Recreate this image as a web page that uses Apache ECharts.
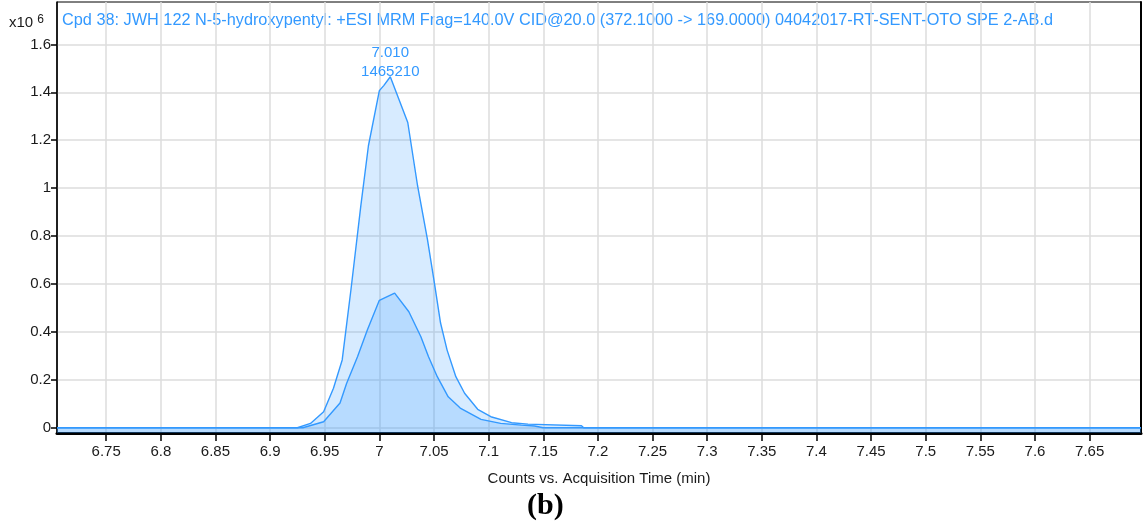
<!DOCTYPE html>
<html>
<head>
<meta charset="utf-8">
<script src="https://cdn.jsdelivr.net/npm/echarts@6/dist/echarts.min.js"></script>
<style>
  html, body { margin: 0; padding: 0; background: #fff; }
  #chart { width: 1146px; height: 529px; }
</style>
</head>
<body>
<div id="chart"></div>
<script>
// Chromatogram data, intensity in units of x10^6 counts
const outerTime = [6.705, 6.925, 6.937, 6.949, 6.958, 6.966, 6.974, 6.983, 6.990, 7.000, 7.004, 7.010,
    7.026, 7.035, 7.044, 7.050, 7.056, 7.062, 7.070, 7.078, 7.090, 7.102, 7.121, 7.136, 7.185, 7.187, 7.697];
const outerCounts = [0, 0, 0.018, 0.067, 0.165, 0.283, 0.576, 0.925, 1.177, 1.407, 1.428, 1.465,
    1.274, 1.009, 0.786, 0.615, 0.437, 0.324, 0.213, 0.144, 0.077, 0.046, 0.021, 0.015, 0.008, 0, 0];

const innerTime = [6.705, 6.930, 6.949, 6.964, 6.970, 6.980, 6.989, 7.000, 7.014, 7.027, 7.038, 7.045,
    7.053, 7.063, 7.074, 7.093, 7.111, 7.130, 7.142, 7.150, 7.697];
const innerCounts = [0, 0, 0.025, 0.103, 0.185, 0.296, 0.408, 0.532, 0.562, 0.484, 0.380, 0.296,
    0.213, 0.129, 0.082, 0.035, 0.018, 0.011, 0.007, 0, 0];

const xTicks = [6.75, 6.8, 6.85, 6.9, 6.95, 7, 7.05, 7.1, 7.15, 7.2, 7.25, 7.3, 7.35, 7.4, 7.45,
    7.5, 7.55, 7.6, 7.65];
const yTicks = [0, 0.2, 0.4, 0.6, 0.8, 1, 1.2, 1.4, 1.6];

const peakTime = '7.010';
const peakCounts = '1465210';
const peakIndex = 11;

const titleText = 'Cpd 38: JWH 122 N-5-hydroxypentyl: +ESI MRM Frag=140.0V CID@20.0 (372.1000 -> 169.0000) 04042017-RT-SENT-OTO SPE 2-AB.d';

const theme = {
    line: '#3399ff',
    fill: 'rgba(51,153,255,0.28)',
    grid: '#dcdcdc',
    text: '#1a1a1a',
    font: 'Liberation Sans',
};

const chart = echarts.init(document.getElementById('chart'));

const toPairs = (xs, ys) => xs.map((x, i) => [x, ys[i]]);

const option = {
    animation: false,
    backgroundColor: '#fff',
    textStyle: { fontFamily: theme.font },
    grid: {
        left: 57,
        right: 5,
        top: 2,
        bottom: 96,
        show: true,
        borderColor: '#000',
        borderWidth: 1,
    },
    graphic: [
        {
            type: 'text',
            left: 9,
            top: 14,
            style: {
                text: '{a|x10}{b|6}',
                rich: {
                    a: { fontSize: 15, fill: theme.text, fontFamily: theme.font },
                    b: { fontSize: 12, fill: theme.text, fontFamily: theme.font, verticalAlign: 'top', padding: [0, 0, 6, 4] },
                },
            },
        },
        {
            type: 'text',
            left: 62,
            top: 13,
            style: {
                text: titleText,
                fill: theme.line,
                fontSize: 16.3,
                fontFamily: theme.font,
            },
        },
        {
            type: 'text',
            left: 527,
            top: 491,
            style: {
                text: '(b)',
                fill: '#000',
                fontSize: 30,
                fontWeight: 'bold',
                fontFamily: 'Liberation Serif',
            },
        },
    ],
    xAxis: {
        type: 'value',
        min: 6.705,
        max: 7.697,
        name: 'Counts vs. Acquisition Time (min)',
        nameLocation: 'middle',
        nameGap: 38,
        nameTextStyle: { color: theme.text, fontSize: 15, fontFamily: theme.font },
        axisLine: { show: true, onZero: false, lineStyle: { color: '#000', width: 3 } },
        axisTick: { show: true, length: 8, customValues: xTicks, lineStyle: { color: '#000', width: 1.5 } },
        axisLabel: { customValues: xTicks, color: theme.text, fontSize: 15, margin: 11 },
        splitLine: { show: true, lineStyle: { color: theme.grid, width: 1.5 } },
    },
    yAxis: [
        {
            type: 'value',
            min: -0.022,
            max: 1.777,
            axisLine: { show: true, onZero: false, lineStyle: { color: '#000', width: 1.5 } },
            axisTick: { show: true, length: 6, customValues: yTicks, lineStyle: { color: '#000', width: 1.5 } },
            axisLabel: { customValues: yTicks, color: theme.text, fontSize: 15, margin: 6 },
            splitLine: { show: true, lineStyle: { color: theme.grid, width: 1.5 } },
        },
        {
            // right edge of the plot frame
            type: 'value',
            position: 'right',
            min: -0.022,
            max: 1.777,
            axisLine: { show: true, onZero: false, lineStyle: { color: '#000', width: 2 } },
            axisTick: { show: false },
            axisLabel: { show: false },
            splitLine: { show: false },
        },
    ],
    series: [
        {
            type: 'line',
            data: toPairs(outerTime, outerCounts),
            symbol: 'none',
            silent: true,
            lineStyle: { color: theme.line, width: 1.4 },
            areaStyle: { color: theme.fill, origin: 'start' },
            markPoint: {
                silent: true,
                symbol: 'circle',
                symbolSize: 1,
                itemStyle: { color: 'rgba(0,0,0,0)' },
                data: [{
                    coord: [outerTime[peakIndex], outerCounts[peakIndex]],
                    label: {
                        show: true,
                        position: 'top',
                        distance: 0,
                        offset: [0, 5],
                        formatter: peakTime + '\n' + peakCounts,
                        color: theme.line,
                        fontSize: 15,
                        lineHeight: 19,
                        fontFamily: theme.font,
                    },
                }],
            },
        },
        {
            type: 'line',
            data: toPairs(innerTime, innerCounts),
            symbol: 'none',
            silent: true,
            lineStyle: { color: theme.line, width: 1.4 },
            areaStyle: { color: theme.fill, origin: 'start' },
        },
    ],
};

chart.setOption(option);
</script>
</body>
</html>
